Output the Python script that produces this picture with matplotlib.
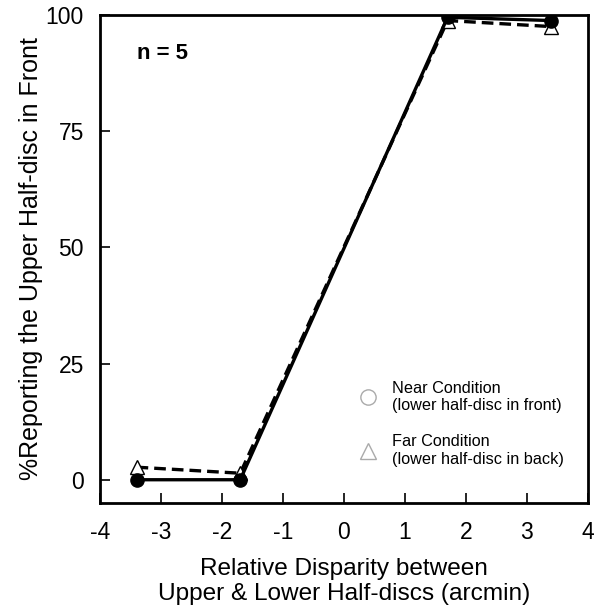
import matplotlib.pyplot as plt
from matplotlib.lines import Line2D

plt.rcParams['font.family'] = ['Liberation Sans', 'DejaVu Sans']
plt.rcParams['axes.unicode_minus'] = False

# data
disparity = [-3.4, -1.7, 1.7, 3.4]
near_pct = [0.0, 0.0, 99.5, 98.8]
far_pct = [2.7, 1.4, 98.8, 97.5]

x_ticks = [-4, -3, -2, -1, 0, 1, 2, 3, 4]
y_ticks = [0, 25, 50, 75, 100]

fig = plt.figure(figsize=(5.95, 6.11), dpi=100)
ax = fig.add_axes([0.168, 0.1768, 0.82, 0.7987])

# far condition: dashed line, open triangles
ax.plot(disparity, far_pct, color='black', lw=2.4, dashes=(3.5, 1.8),
        marker='^', markersize=9.5, markerfacecolor='white',
        markeredgecolor='black', markeredgewidth=1.0, zorder=3)
# near condition: solid line, filled circles
ax.plot(disparity, near_pct, color='black', lw=2.4,
        marker='o', markersize=9.5, markerfacecolor='black',
        markeredgecolor='black', zorder=4)

ax.set_xlim(-4, 4)
ax.set_ylim(-5, 100)
ax.set_xticks(x_ticks)
ax.set_yticks(y_ticks)
ax.tick_params(direction='in', length=7, width=1.2, labelsize=16.5)
ax.tick_params(axis='x', pad=13)
ax.tick_params(axis='y', pad=11.5)

for side in ['left', 'right', 'top', 'bottom']:
    ax.spines[side].set_linewidth(2)

ax.set_xlabel('Relative Disparity between\nUpper & Lower Half-discs (arcmin)',
              fontsize=17.6, labelpad=10, linespacing=1.2)
ax.set_ylabel('%Reporting the Upper Half-disc in Front', fontsize=18, labelpad=2)

ax.text(0.076, 0.922, 'n = 5', transform=ax.transAxes, fontsize=16,
        fontweight='bold', va='center', ha='left')

handles = [
    Line2D([], [], ls='none', marker='o', markersize=11, markerfacecolor='white',
           markeredgecolor='#aaaaaa', markeredgewidth=1.0),
    Line2D([], [], ls='none', marker='^', markersize=11, markerfacecolor='white',
           markeredgecolor='#aaaaaa', markeredgewidth=1.0),
]
labels = ['Near Condition\n(lower half-disc in front)',
          'Far Condition\n(lower half-disc in back)']
ax.legend(handles, labels, loc='upper left', bbox_to_anchor=(0.532, 0.25),
          frameon=False, fontsize=11.7, handlelength=1.0, handletextpad=1.0,
          labelspacing=1.3, borderaxespad=0, borderpad=0)

fig.savefig('out.png', dpi=100)
